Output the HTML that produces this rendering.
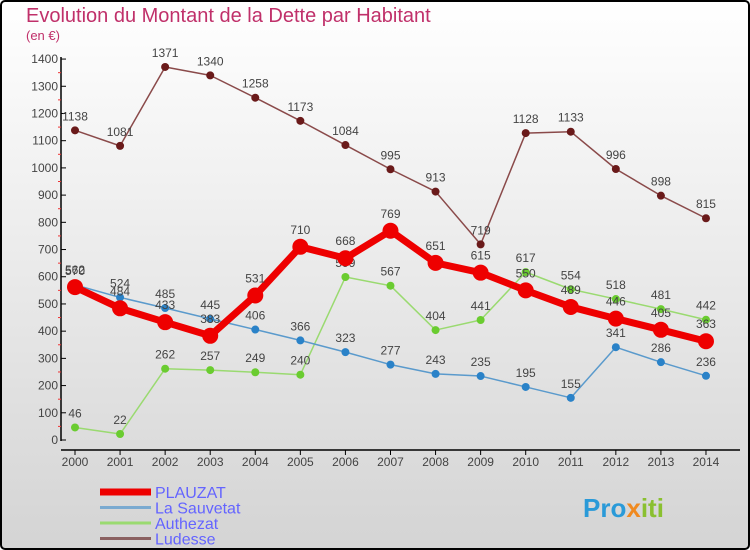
<!DOCTYPE html>
<html><head><meta charset="utf-8"><style>
body{margin:0}
svg{display:block;font-family:"Liberation Sans",sans-serif}
</style></head><body>
<svg id="c" width="750" height="550" xmlns="http://www.w3.org/2000/svg">
<defs><linearGradient id="bg" x1="0" y1="0" x2="0" y2="1"><stop offset="0" stop-color="#ffffff"/><stop offset="1" stop-color="#d4d4d4"/></linearGradient></defs>
<rect x="1" y="1" width="748" height="548" rx="4" fill="url(#bg)" stroke="#000" stroke-width="2"/>
<text x="26" y="22" font-size="20" fill="#c0306a">Evolution du Montant de la Dette par Habitant</text>
<text x="26" y="40" font-size="13" fill="#c0306a">(en €)</text>
<g id="axes"></g><g id="series"></g><g id="legend"></g>
<text x="583" y="517" font-size="26" font-weight="bold" fill="#2a9ad8">Pro<tspan fill="#f08a20">x</tspan><tspan fill="#8ac030">iti</tspan></text>
</svg>
<script>
const years=[2000,2001,2002,2003,2004,2005,2006,2007,2008,2009,2010,2011,2012,2013,2014];
const plauzat=[562,484,433,383,531,710,668,769,651,615,550,489,446,405,363];
const sauvetat=[570,524,485,445,406,366,323,277,243,235,195,155,341,286,236];
const authezat=[46,22,262,257,249,240,599,567,404,441,617,554,518,481,442];
const ludesse=[1138,1081,1371,1340,1258,1173,1084,995,913,719,1128,1133,996,898,815];
const yTicks=[0,100,200,300,400,500,600,700,800,900,1000,1100,1200,1300,1400];
const NS="http://www.w3.org/2000/svg";
const x=i=>75+i*45.07;
const y=v=>440-v*0.2721;
function mk(t,a,p){const e=document.createElementNS(NS,t);for(const k in a)e.setAttribute(k,a[k]);p.appendChild(e);return e;}
const ax=document.getElementById('axes');
let l=mk('line',{x1:61,y1:57,x2:61,y2:441,stroke:'#000','stroke-width':1.5},ax);


l=mk('line',{x1:61,y1:450,x2:740,y2:450,stroke:'#000','stroke-width':1.5},ax);


yTicks.forEach(v=>{
  mk('line',{x1:61,y1:y(v),x2:66,y2:y(v),stroke:'#000'},ax);
  if(v<1400)mk('line',{x1:58,y1:y(v+50),x2:61,y2:y(v+50),stroke:'#e33'},ax);
  const t=mk('text',{x:58,y:y(v)+4,'font-size':12,fill:'#444','text-anchor':'end'},ax);t.textContent=v;
  
  
});
years.forEach((yr,i)=>{
  mk('line',{x1:x(i),y1:450,x2:x(i),y2:455,stroke:'#000'},ax);
  const t=mk('text',{x:x(i),y:466,'font-size':12,fill:'#444','text-anchor':'middle'},ax);t.textContent=yr;
  
  
});
const sg=document.getElementById('series');
function series(vals,col,dot,w,r,name,lblOff){
  const g=mk('g',{},sg);
  
  
  mk('polyline',{points:vals.map((v,i)=>x(i)+','+y(v)).join(' '),fill:'none',stroke:col,'stroke-width':w,'stroke-linejoin':'round'},g);
  vals.forEach((v,i)=>{
    const c=mk('circle',{cx:x(i),cy:y(v),r:r,fill:dot},g);
    
    
    const t=mk('text',{x:x(i),y:y(v)-lblOff,'font-size':12,fill:'#444','text-anchor':'middle'},g);t.textContent=v;
    
    
  });
}
series(ludesse,'#8a4a4a','#6a1a1a',1.5,4,'ludesse',10);
series(authezat,'#9ada70','#6acc30',1.5,4,'authezat',10);
series(sauvetat,'#5a9acc','#2a82c8',1.5,4,'la-sauvetat',10);
series(plauzat,'#ee0000','#ee0000',7,8,'plauzat',13);
const lg=document.getElementById('legend');
[['PLAUZAT','#ee0000',7],['La Sauvetat','#7aaad0',3],['Authezat','#9ada70',3],['Ludesse','#8a6060',3]].forEach((d,i)=>{
  const yy=492+i*15.5;
  const g=mk('g',{},lg);
  
  
  mk('line',{x1:100,y1:yy,x2:151,y2:yy,stroke:d[1],'stroke-width':d[2]},g);
  const t=mk('text',{x:155,y:yy+6,'font-size':16,fill:'#6464ff'},g);t.textContent=d[0];
});
</script>
</body></html>
